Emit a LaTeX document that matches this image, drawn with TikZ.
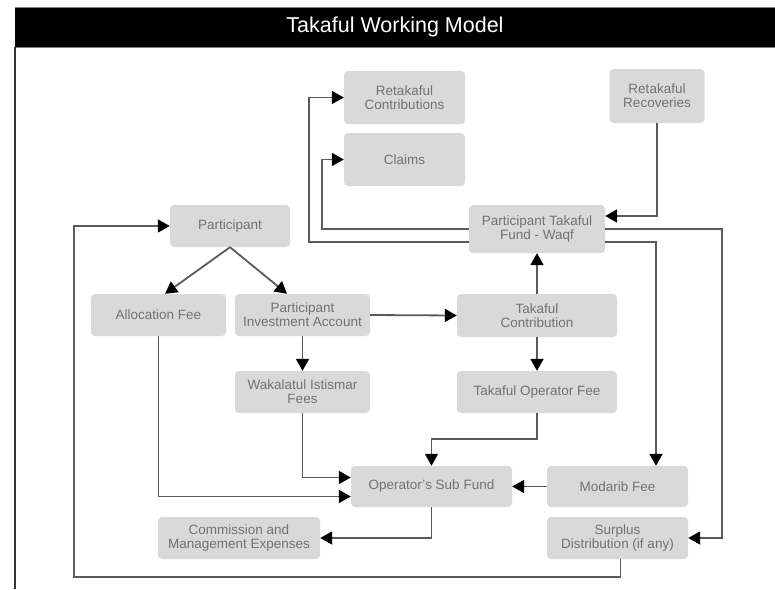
\documentclass[tikz,border=0pt]{standalone}
\usepackage{fontspec}
\setmainfont{Liberation Sans}
\usetikzlibrary{arrows.meta,calc}
\definecolor{boxgray}{HTML}{D9D9D9}
\definecolor{txtgray}{HTML}{727272}
\definecolor{linegray}{HTML}{5A5A5A}
\begin{document}
\begin{tikzpicture}[x=1pt,y=-1pt,
    box/.style={fill=boxgray, rounded corners=4pt, text=txtgray, align=center,
        inner sep=2pt, font=\fontsize{13.5}{14}\selectfont},
    flow/.style={linegray, line width=1.8pt,
        -{Triangle[length=12pt,width=13pt,color=black]}}]
                \useasboundingbox (0,0) rectangle (775,589);

                % Title band and frame
                \fill[black] (15,7) rectangle (775,47);
                \draw[gray, line width=0.8pt] (15,7) -- (775,7) (15,47) -- (775,47);
                \draw[black!80, line width=1.4pt] (15,47) -- (15,589);
                \node[white, font=\fontsize{21.5}{23}\selectfont] (title) at (395,27) {Takaful Working Model};

                % Boxes
                \node[box, minimum width=121pt, minimum height=53pt] (retc) at (404.5,97.5) {Retakaful\\Contributions};
                \node[box, minimum width=121pt, minimum height=53pt] (claims) at (404.5,159.5) {Claims};
                \node[box, minimum width=95pt, minimum height=54pt] (recov) at (657,96) {Retakaful\\Recoveries};
                \node[box, minimum width=136pt, minimum height=48pt] (waqf) at (537,229) {Participant Takaful\\Fund - Waqf};
                \node[box, minimum width=120pt, minimum height=42pt] (part) at (230,226) {Participant};
                \node[box, minimum width=135pt, minimum height=42pt] (alloc) at (158.5,315) {Allocation Fee};
                \node[box, minimum width=135pt, minimum height=42pt] (pia) at (302.5,315) {Participant\\Investment Account};
                \node[box, minimum width=160pt, minimum height=43pt] (tcon) at (537,315.5) {Takaful\\Contribution};
                \node[box, minimum width=135pt, minimum height=42pt] (wak) at (302.5,392) {Wakalatul Istismar\\Fees};
                \node[box, minimum width=160pt, minimum height=42pt] (tof) at (537,392) {Takaful Operator Fee};
                \node[box, minimum width=161pt, minimum height=41pt] (osf) at (431.5,486.5) {Operator's Sub Fund};
                \node[box, minimum width=141pt, minimum height=41pt] (mod) at (617.5,486.5) {Modarib Fee};
                \node[box, minimum width=141pt, minimum height=42pt] (surp) at (617.5,538) {Surplus\\Distribution (if any)};
                \node[box, minimum width=162pt, minimum height=42pt] (comm) at (239,538) {Commission and\\Management Expenses};

                % Waqf fund in and out
                \draw[flow] (recov.south) |- ($(waqf.east)+(0,-13)$);
                \draw[flow] (waqf.west) -- ++(-147,0) |- (claims.west);
                \draw[flow] ($(waqf.west)+(0,13)$) -- ++(-160,0) |- (retc.west);
                \draw[flow] (waqf.east) -- ++(117,0) |- (surp.east);
                \draw[flow] ($(waqf.east)+(0,13)$) -| ($(mod.north)+(38.5,0)$);

                % Participant side
                \draw[flow] (part.south) -- ($(alloc.north)+(6.5,0)$);
                \draw[flow] (part.south) -- ($(pia.north)+(-15.5,0)$);
                \draw[flow] (pia.east) -- (tcon.west);
                \draw[flow] (pia.south) -- (wak.north);
                \draw[flow] (tcon.north) -- (waqf.south);
                \draw[flow] (tcon.south) -- (tof.north);

                % Into the operator's fund
                \draw[flow] (alloc.south) |- ($(osf.west)+(0,10)$);
                \draw[flow] (wak.south) |- ($(osf.west)+(0,-9)$);
                \draw[flow] (tof.south) -- ++(0,26) -| (osf.north);
                \draw[flow] (mod.west) -- (osf.east);
                \draw[flow] (osf.south) |- (comm.east);

                % Surplus back to participant
                \draw[flow] ($(surp.south)+(3,0)$) -- ++(0,18) -- ++(-546.5,0) |- (part.west);
            \end{tikzpicture}
\end{document}
